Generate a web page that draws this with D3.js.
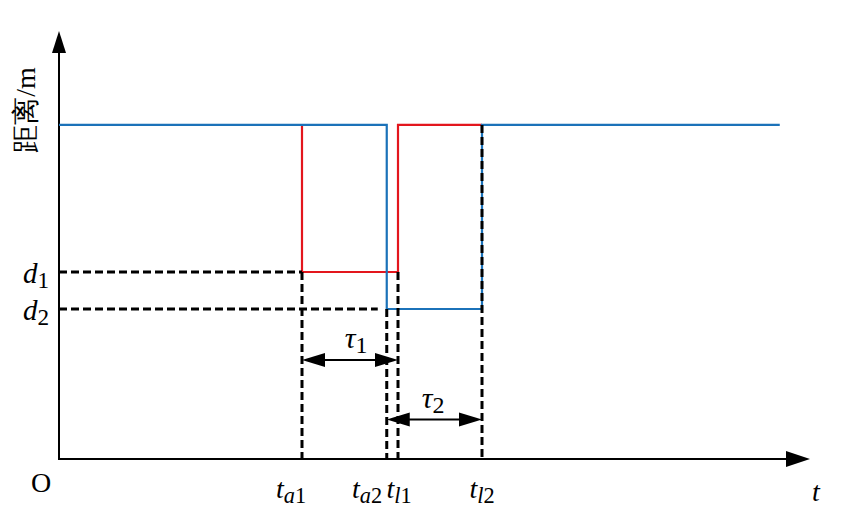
<!DOCTYPE html>
<html>
<head>
<meta charset="utf-8">
<script src="https://cdn.jsdelivr.net/npm/d3@7"></script>
<style>
  body { margin: 0; background: #fff; }
  text { font-family: "Liberation Serif", "Times New Roman", serif; }
</style>
</head>
<body>
<div id="svg-area"></div>
<script>
var svgWidth = 843;
var svgHeight = 518;

// time instants (axis units) and distance levels
var timeNames = ["ta1", "ta2", "tl1", "tl2"];
var timeValues = [3.24, 4.37, 4.52, 5.64];
var timeEnd = 9.61;
var levelNames = ["H", "d1", "d2"];
var levelValues = [0.786, 0.44, 0.353];

var t = {}; timeNames.forEach(function(n, i) { t[n] = timeValues[i]; });
var lv = {}; levelNames.forEach(function(n, i) { lv[n] = levelValues[i]; });

// blue and red distance traces
var blueSeries = [[0, lv.H], [t.ta2, lv.H], [t.ta2, lv.d2], [t.tl2, lv.d2], [t.tl2, lv.H], [timeEnd, lv.H]];
var redSeries = [[t.ta1, lv.H], [t.ta1, lv.d1], [t.tl1, lv.d1], [t.tl1, lv.H], [t.tl2, lv.H]];

var x = d3.scaleLinear().domain([0, 10]).range([59, 809]);
var y = d3.scaleLinear().domain([0, 1]).range([459, 34]);

var svg = d3.select("#svg-area").append("svg")
  .attr("width", svgWidth)
  .attr("height", svgHeight);

var line = d3.line()
  .x(function(d) { return x(d[0]); })
  .y(function(d) { return y(d[1]); });

// axes
svg.append("line").attr("x1", x(0)).attr("y1", y(0)).attr("x2", x(0)).attr("y2", 50)
  .attr("stroke", "#000").attr("stroke-width", 2);
svg.append("path").attr("d", "M" + (x(0) - 7) + ",53 L" + x(0) + ",31 L" + (x(0) + 7) + ",53 Z").attr("fill", "#000");
svg.append("line").attr("x1", x(0) - 1).attr("y1", y(0)).attr("x2", 790).attr("y2", y(0))
  .attr("stroke", "#000").attr("stroke-width", 2);
svg.append("path").attr("d", "M786," + (y(0) - 8) + " L810," + y(0) + " L786," + (y(0) + 8) + " Z").attr("fill", "#000");

// traces
svg.append("path").datum(redSeries).attr("d", line)
  .attr("fill", "none").attr("stroke", "#e3161d").attr("stroke-width", 2.2);
svg.append("path").datum(blueSeries).attr("d", line)
  .attr("fill", "none").attr("stroke", "#1b72b9").attr("stroke-width", 2.2);

// dashed guides
var dash = "8,4";
var guides = [
  [[0, lv.d1], [t.ta1, lv.d1]],
  [[0, lv.d2], [t.ta2 - 0.12, lv.d2]],
  [[t.ta1, lv.d1], [t.ta1, 0]],
  [[t.ta2, lv.d2], [t.ta2, 0]],
  [[t.tl1, lv.d1], [t.tl1, 0]],
  [[t.tl2, lv.H], [t.tl2, 0]]
];
guides.forEach(function(g) {
  svg.append("path").datum(g).attr("d", line)
    .attr("fill", "none").attr("stroke", "#000").attr("stroke-width", 3)
    .attr("stroke-dasharray", dash);
});

// double-headed interval arrows
function interval(a, b, yy) {
  var x1 = x(a), x2 = x(b), yp = y(yy);
  svg.append("line").attr("x1", x1 + 10).attr("x2", x2 - 10).attr("y1", yp).attr("y2", yp)
    .attr("stroke", "#000").attr("stroke-width", 2);
  svg.append("path").attr("d", "M" + x1 + "," + yp + " L" + (x1 + 23) + "," + (yp - 7) + " L" + (x1 + 23) + "," + (yp + 7) + " Z").attr("fill", "#000");
  svg.append("path").attr("d", "M" + x2 + "," + yp + " L" + (x2 - 23) + "," + (yp - 7) + " L" + (x2 - 23) + "," + (yp + 7) + " Z").attr("fill", "#000");
}
interval(t.ta1, t.tl1, 0.233);
interval(t.ta2, t.tl2, 0.093);

function subLabel(px, py, main, sub, size, anchor) {
  var tx = svg.append("text").attr("x", px).attr("y", py)
    .attr("font-size", size).attr("text-anchor", anchor || "middle");
  tx.append("tspan").attr("font-style", "italic").text(main);
  tx.append("tspan").attr("font-size", size * 0.8).attr("dy", 5)
    .selectAll("tspan").data(sub).enter().append("tspan")
    .attr("font-style", function(d) { return d.it ? "italic" : "normal"; })
    .text(function(d) { return d.s; });
}

subLabel(356, 348, "τ", [{s: "1"}], 30);
subLabel(433, 408, "τ", [{s: "2"}], 30);

subLabel(36, 283, "d", [{s: "1"}], 29);
subLabel(36, 320, "d", [{s: "2"}], 29);

var tickLabels = [
  {x: 291, sub: [{s: "a", it: true}, {s: "1"}]},
  {x: 367, sub: [{s: "a", it: true}, {s: "2"}]},
  {x: 399, sub: [{s: "l", it: true}, {s: "1"}]},
  {x: 482, sub: [{s: "l", it: true}, {s: "2"}]}
];
tickLabels.forEach(function(d) { subLabel(d.x, 498, "t", d.sub, 28); });

svg.append("text").attr("x", 41).attr("y", 492).attr("font-size", 28)
  .attr("text-anchor", "middle").text("O");
svg.append("text").attr("x", 816).attr("y", 501).attr("font-size", 28)
  .attr("font-style", "italic").attr("text-anchor", "middle").text("t");

svg.append("text")
  .attr("transform", "translate(35,110) rotate(-90)")
  .attr("text-anchor", "middle")
  .attr("font-size", 28)
  .text("距离/m");
</script>
</body>
</html>
